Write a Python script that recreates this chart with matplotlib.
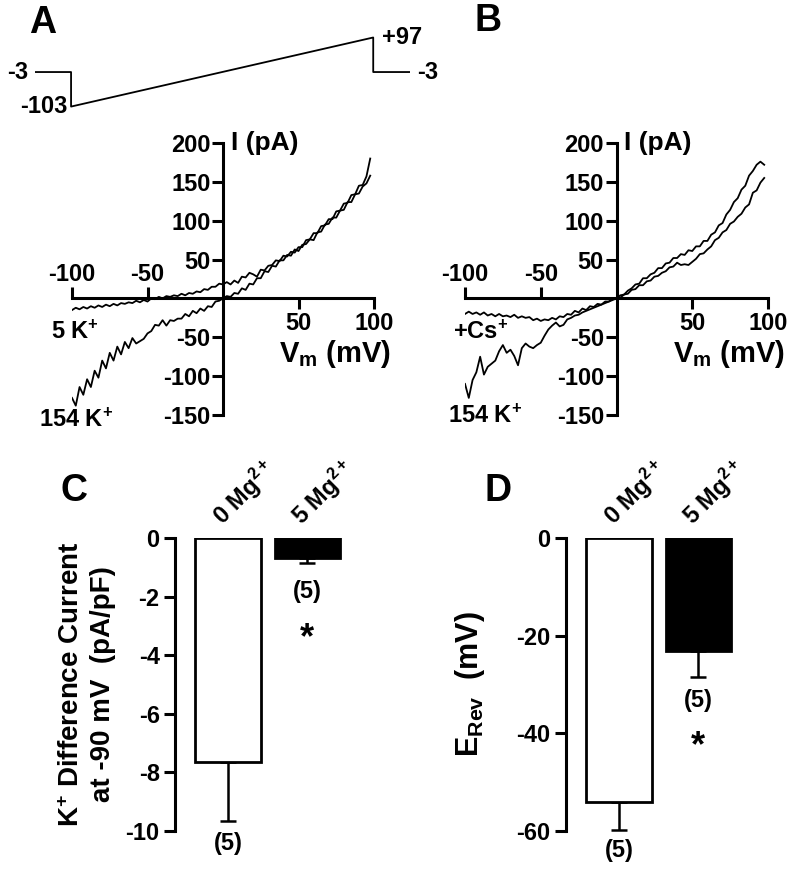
import numpy as np
import matplotlib
matplotlib.use("Agg")
import matplotlib.pyplot as plt

plt.rcParams['font.family'] = ['Liberation Sans', 'DejaVu Sans']
plt.rcParams['font.weight'] = 'bold'
plt.rcParams['axes.labelweight'] = 'bold'
plt.rcParams['axes.unicode_minus'] = False
plt.rcParams['mathtext.fontset'] = 'custom'
plt.rcParams['mathtext.rm'] = 'Liberation Sans:bold'
plt.rcParams['mathtext.bf'] = 'Liberation Sans:bold'
plt.rcParams['mathtext.it'] = 'Liberation Sans:bold'
plt.rcParams['mathtext.default'] = 'rm'

# ---------------- data ----------------
# voltage protocol (time in ms, voltage in mV)
proto_t = [0, 50, 50, 469, 469, 520]
proto_v = [-3, -3, -103, 97, -3, -3]

# ramp voltages for the I-V traces (mV)
ramp_v = [-100, -97.5, -95, -92.5, -90, -87.5, -85, -82.5, -80, -77.5,
          -75, -72.5, -70, -67.5, -65, -62.5, -60, -57.5, -55, -52.5,
          -50, -47.5, -45, -42.5, -40, -37.5, -35, -32.5, -30, -27.5,
          -25, -22.5, -20, -17.5, -15, -12.5, -10, -7.5, -5, -2.5,
          0, 2.5, 5, 7.5, 10, 12.5, 15, 17.5, 20, 22.5,
          25, 27.5, 30, 32.5, 35, 37.5, 40, 42.5, 45, 47.5,
          50, 52.5, 55, 57.5, 60, 62.5, 65, 67.5, 70, 72.5,
          75, 77.5, 80, 82.5, 85, 87.5, 90, 92.5, 95, 97.5]

# Panel A currents (pA)
a_154k = [-128, -138, -114, -124, -104, -114, -93, -102, -80, -90,
          -70, -80, -62, -72, -56, -64, -51, -58, -55, -52,
          -45, -42, -34, -35, -28, -35, -28, -29, -26, -26,
          -20, -23, -16, -19, -13, -16, -10, -11, -4, -3,
          0, 3, 2, 7, 6, 13, 11, 19, 18, 26,
          26, 35, 34, 42, 41, 49, 49, 56, 55, 63,
          61, 69, 70, 76, 75, 85, 86, 95, 96, 104,
          104, 113, 114, 124, 124, 134, 135, 144, 148, 158]
a_5k = [-15, -12, -14, -11, -13, -10, -12, -9, -11, -8,
        -10, -7, -9, -6, -7, -5, -6, -3, -5, -2,
        -4, 0, -1, 2, 0, 3, 2, 4, 3, 6,
        4, 7, 6, 9, 8, 12, 11, 15, 15, 19,
        18, 21, 18, 23, 20, 28, 27, 33, 31, 28,
        37, 36, 42, 43, 49, 48, 55, 54, 60, 59,
        66, 66, 75, 76, 84, 84, 93, 94, 102, 102,
        112, 113, 122, 123, 133, 134, 145, 146, 157, 180]

# Panel B currents (pA)
b_154k = [-110, -128, -105, -95, -75, -98, -88, -84, -80, -68,
          -60, -70, -66, -74, -86, -64, -58, -62, -64, -60,
          -57, -48, -40, -35, -31, -36, -34, -27, -25, -22,
          -21, -18, -16, -14, -12, -10, -8, -6, -4, -2,
          0, 4, 5, 10, 13, 18, 19, 26, 26, 31,
          33, 39, 39, 45, 46, 52, 52, 57, 56, 62,
          61, 67, 67, 74, 74, 82, 85, 94, 97, 108,
          114, 124, 129, 140, 145, 158, 164, 172, 176, 172]
b_cs = [-20, -17, -20, -18, -21, -18, -22, -20, -23, -20,
        -23, -22, -24, -21, -25, -23, -25, -24, -28, -26,
        -29, -27, -28, -25, -27, -23, -24, -20, -21, -16,
        -18, -13, -15, -10, -11, -7, -8, -4, -4, 0,
        0, 1, 5, 6, 11, 12, 17, 17, 22, 23,
        28, 29, 33, 35, 40, 41, 46, 43, 44, 43,
        47, 51, 57, 58, 63, 67, 75, 78, 85, 88,
        96, 99, 105, 109, 117, 121, 136, 139, 149, 155]

# Panels C and D
groups = ['0 Mg$^{2+}$', '5 Mg$^{2+}$']
c_mean = [-7.65, -0.68]
c_sem = [2.0, 0.17]
d_mean = [-54.1, -23.1]
d_sem = [5.7, 5.4]
n_cells = [5, 5]

# ---------------- figure ----------------
W, H = 800, 869
fig = plt.figure(figsize=(W / 100, H / 100), dpi=100)


def px_axes(left, right, top, bottom):
    return fig.add_axes([left / W, 1 - bottom / H, (right - left) / W, (bottom - top) / H])


LW = 2.2
TFS = 17

# protocol
axp = px_axes(35, 410, 33, 109)
axp.plot(proto_t, proto_v, color='black', lw=1.3)
axp.set_xlim(0, 520)
axp.set_ylim(-110, 110)
axp.axis('off')
axp.text(-9, proto_v[0], '-3', ha='right', va='center', fontsize=TFS)
axp.text(45, proto_v[2], '-103', ha='right', va='center', fontsize=TFS)
axp.text(481, proto_v[3], '+97', ha='left', va='center', fontsize=TFS)
axp.text(530, proto_v[-1], '-3', ha='left', va='center', fontsize=TFS)


def iv_axes(left, right, traces, lab1, lab1_xy, lab2, lab2_xy):
    ax = px_axes(left, right, 143, 415)
    for tr in traces:
        ax.plot(ramp_v, tr, color='black', lw=1.3)
    ax.set_xlim(-100, 100)
    ax.set_ylim(-150, 200)
    ax.spines['left'].set_position(('data', 0))
    ax.spines['bottom'].set_position(('data', 0))
    ax.spines['top'].set_position(('data', 0))
    ax.spines['top'].set_visible(False)
    ax.spines['right'].set_visible(False)
    for s in ['left', 'bottom']:
        ax.spines[s].set_linewidth(LW)
    ax.set_xticks([-100, -50], labels=['-100', '-50'])
    ax.set_xticks([50, 100], labels=['50', '100'], minor=True)
    ax.tick_params(axis='x', which='major', bottom=False, top=True, labelbottom=False,
                   labeltop=True, direction='out', length=8, width=LW, pad=1, labelsize=TFS)
    ax.tick_params(axis='x', which='minor', bottom=True, top=False, labelbottom=True,
                   labeltop=False, direction='out', length=8, width=LW, pad=2, labelsize=TFS)
    ax.set_yticks([-150, -100, -50, 50, 100, 150, 200])
    ax.tick_params(axis='y', direction='out', length=8, width=LW, pad=1, labelsize=TFS)
    for t in ax.get_xticklabels() + ax.get_yticklabels() + ax.get_xticklabels(minor=True):
        t.set_fontweight('bold')
    ax.text(5, 200, 'I (pA)', ha='left', va='center', fontsize=19, clip_on=False)
    ax.text(37, -71, 'V$_{\\mathrm{m}}$ (mV)', ha='left', va='center', fontsize=21, clip_on=False)
    ax.text(lab1_xy[0], lab1_xy[1], lab1, ha='center', va='center', fontsize=TFS, clip_on=False)
    ax.text(lab2_xy[0], lab2_xy[1], lab2, ha='center', va='center', fontsize=TFS, clip_on=False)
    return ax


iv_axes(72, 374, [a_154k, a_5k], '5 K$^{+}$', (-98, -44), '154 K$^{+}$', (-97, -157))
iv_axes(465, 768, [b_154k, b_cs], '+Cs$^{+}$', (-90, -44), '154 K$^{+}$', (-87, -152))


def bar_axes(left, means, sems, ylim, yticks, ylabel, label_x, n_y, star_y, ylab_fs):
    ax = px_axes(left, left + 180, 538, 831)
    xs = [0, 1]
    ax.bar(xs, means, width=0.82, color=['white', 'black'], edgecolor='black', linewidth=2, zorder=3)
    ax.errorbar(xs, means, yerr=[sems, [0, 0]], fmt='none', ecolor='black', elinewidth=1.8,
                capsize=6, capthick=1.8, zorder=2)
    ax.set_xlim(-0.667, 1.6)
    ax.set_ylim(*ylim)
    for s in ['top', 'right', 'bottom']:
        ax.spines[s].set_visible(False)
    ax.spines['left'].set_linewidth(LW)
    ax.set_yticks(yticks)
    ax.tick_params(axis='y', direction='out', length=8, width=LW, pad=3, labelsize=TFS)
    ax.xaxis.tick_top()
    ax.set_xticks(xs)
    ax.set_xticklabels(groups, rotation=45, ha='left', rotation_mode='anchor', fontsize=TFS)
    ax.tick_params(axis='x', length=0, pad=5)
    for t in ax.get_xticklabels() + ax.get_yticklabels():
        t.set_fontweight('bold')
    ax.set_ylabel(ylabel, fontsize=ylab_fs, linespacing=1.25, fontweight='bold')
    ax.yaxis.set_label_coords(label_x, 0.5)
    for x, y, n in zip(xs, n_y, n_cells):
        ax.text(x, y, f'({n})', ha='center', va='center', fontsize=TFS, clip_on=False)
    ax.text(1, star_y, '*', ha='center', va='center', fontsize=26, clip_on=False)
    return ax


bar_axes(175, c_mean, c_sem, (-10, 0), [-10, -8, -6, -4, -2, 0],
         'K$^{+}$ Difference Current\nat -90 mV  (pA/pF)', -0.33, [-10.41, -1.84], -3.45, 20)
bar_axes(566, d_mean, d_sem, (-60, 0), [-60, -40, -20, 0],
         'E$_{\\mathrm{Rev}}$  (mV)', -0.44, [-63.9, -33.2], -42.8, 22)

# panel letters
for letter, x, y in [('A', 43, 23), ('B', 488, 21), ('C', 74, 491), ('D', 498, 491)]:
    fig.text(x / W, 1 - y / H, letter, ha='center', va='center', fontsize=27, fontweight='bold')

fig.savefig('out.png', dpi=100)
